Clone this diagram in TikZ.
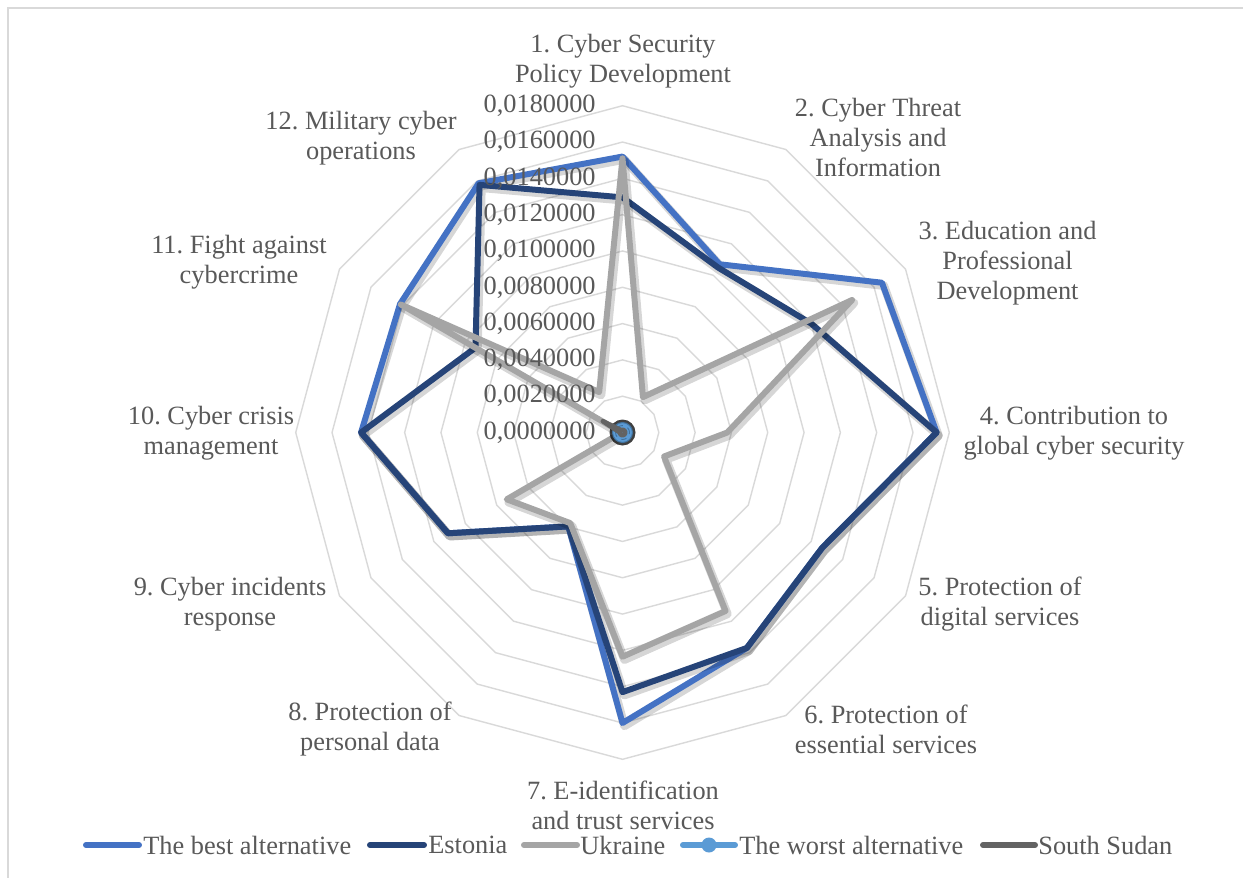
\documentclass[tikz,border=0pt]{standalone}
\usepackage{fontspec}
\setmainfont{Liberation Serif}
\definecolor{cbest}{HTML}{4472C4}
\definecolor{cest}{HTML}{264478}
\definecolor{cukr}{HTML}{A5A5A5}
\definecolor{cworst}{HTML}{5B9BD5}
\definecolor{cworstd}{HTML}{41719C}
\definecolor{cssd}{HTML}{636363}
\definecolor{ctext}{HTML}{595959}
\definecolor{cgrid}{HTML}{D9D9D9}
\frenchspacing
\begin{document}
\frenchspacing
\begin{tikzpicture}[x=0.02cm,y=-0.02cm,
  font=\fontsize{15}{17}\selectfont\frenchspacing,
  every node/.style={text=ctext, inner sep=0pt},
  gridring/.style={draw=cgrid, line width=0.8pt},
  seriesbase/.style={line width=3.4pt, line join=round, line cap=round},
  sbest/.style={seriesbase, draw=cbest},
  sest/.style={seriesbase, draw=cest},
  sukr/.style={seriesbase, draw=cukr},
  sworst/.style={seriesbase, draw=cworst},
  sssd/.style={seriesbase, draw=cssd},
  sshadow/.style={draw=black, opacity=0.16, line width=4.8pt, line join=round, line cap=round,
    transform canvas={shift={(1.1pt,-1.7pt)}}},
  lbl/.style={align=center},
  tick/.style={anchor=east},
  leg/.style={anchor=west}]
\useasboundingbox (0,0) rectangle (1243,877);
\fill[white] (0,0) rectangle (1243,877);
\begin{scope}
  \clip (0,0) rectangle (1243,877);
  \draw[cgrid, line width=1.1pt] (8,8) rectangle (1270,910);
\end{scope}

\begin{scope}[shift={(622.5,432.5)}, y=0.02cm]
  \def\sc{18.156}
  % grid rings
  \foreach \k in {1,...,9}
    \draw[gridring] (90:{\k*36.31}) \foreach \a in {60,30,...,-240} { -- (\a:{\k*36.31}) } -- cycle;
  % data points
  \foreach \v [count=\i] in {15.2,10.7,16.5,17.3,12.7,13.7,16.0,5.97,11.1,14.4,14.15,15.85}
    \coordinate (b\i) at ({120-30*\i}:{\v*\sc});
  \foreach \v [count=\i] in {12.95,10.5,12.0,17.3,12.7,13.7,14.3,5.97,11.1,14.4,9.35,15.75}
    \coordinate (e\i) at ({120-30*\i}:{\v*\sc});
  \foreach \v [count=\i] in {15.1,2.25,14.6,5.77,2.64,11.35,12.35,5.76,7.36,0.05,14.1,2.57}
    \coordinate (u\i) at ({120-30*\i}:{\v*\sc});
  \foreach \v [count=\i] in {0.15,0.15,0.15,0.15,0.15,0.15,0.15,0.15,0.15,0.15,1.25,0.15}
    \coordinate (s\i) at ({120-30*\i}:{\v*\sc});
  \coordinate (ctr) at (0,0);

  % best alternative
  \draw[sshadow] (b1) \foreach \i in {2,...,12} { -- (b\i) } -- cycle;
  \draw[sbest] (b1) \foreach \i in {2,...,12} { -- (b\i) } -- cycle;
  % Estonia
  \draw[sshadow] (e1) \foreach \i in {2,...,12} { -- (e\i) } -- cycle;
  \draw[sest] (e1) \foreach \i in {2,...,12} { -- (e\i) } -- cycle;
  % Ukraine
  \draw[sshadow] (u1) \foreach \i in {2,...,12} { -- (u\i) } -- cycle;
  \draw[sukr] (u1) \foreach \i in {2,...,12} { -- (u\i) } -- cycle;
  % worst alternative (all zero, with markers)
  \fill[black, opacity=0.75] (ctr) circle (13);
  \fill[cworst, draw=cworstd, line width=0.6pt] (ctr) circle (10);
  \draw[cworstd, line width=0.5pt, dashed] (ctr) circle (7);
  % South Sudan
  \draw[sssd, line width=2.6pt] (s1) \foreach \i in {2,...,12} { -- (s\i) } -- cycle;
\end{scope}

% value axis labels
\foreach \y/\t in {432.5/{0,0000000}, 396.2/{0,0020000}, 359.9/{0,0040000}, 323.6/{0,0060000},
  287.3/{0,0080000}, 250.9/{0,0100000}, 214.6/{0,0120000}, 178.3/{0,0140000},
  142.0/{0,0160000}, 105.7/{0,0180000}}
  \node[tick] at (596,\y) {\t};

% category labels
\node[lbl] (l1) at (623,61) {1. Cyber Security\\Policy Development};
\node[lbl] (l2) at (878,137.5) {2. Cyber Threat\\Analysis and\\Information};
\node[lbl] (l3) at (1007.5,263) {3. Education and\\Professional\\Development};
\node[lbl] (l4) at (1074,433.5) {4. Contribution to\\global cyber security};
\node[lbl] (l5) at (1000,604) {5. Protection of\\digital services};
\node[lbl] (l6) at (886,729) {6. Protection of\\essential services};
\node[lbl] (l7) at (623,805) {7. E-identification\\and trust services};
\node[lbl] (l8) at (370,729) {8. Protection of\\personal data};
\node[lbl] (l9) at (230,604) {9. Cyber incidents\\response};
\node[lbl] (l10) at (211,433.5) {10. Cyber crisis\\management};
\node[lbl] (l11) at (239,262.5) {11. Fight against\\cybercrime};
\node[lbl] (l12) at (361,138.5) {12. Military cyber\\operations};

% legend
\coordinate (lb1) at (86,845);  \coordinate (lb2) at (139,845);
\coordinate (le1) at (370,845); \coordinate (le2) at (424,845);
\coordinate (lu1) at (524,845); \coordinate (lu2) at (577,845);
\coordinate (lw1) at (683,845); \coordinate (lw2) at (735,845); \coordinate (lwm) at (709,845);
\coordinate (ls1) at (983,845); \coordinate (ls2) at (1035,845);
\draw[sbest] (lb1) -- (lb2);
\node[leg] (tb) at (143,845) {The best alternative};
\draw[sest] (le1) -- (le2);
\node[leg] (te) at (428,845) {Estonia};
\draw[sukr] (lu1) -- (lu2);
\node[leg] (tu) at (580,845) {Ukraine};
\draw[sworst] (lw1) -- (lw2);
\fill[cworst] (lwm) circle (7.5);
\node[leg] (tw) at (739,845) {The worst alternative};
\draw[sssd] (ls1) -- (ls2);
\node[leg] (ts) at (1038,845) {South Sudan};
\end{tikzpicture}
\end{document}
